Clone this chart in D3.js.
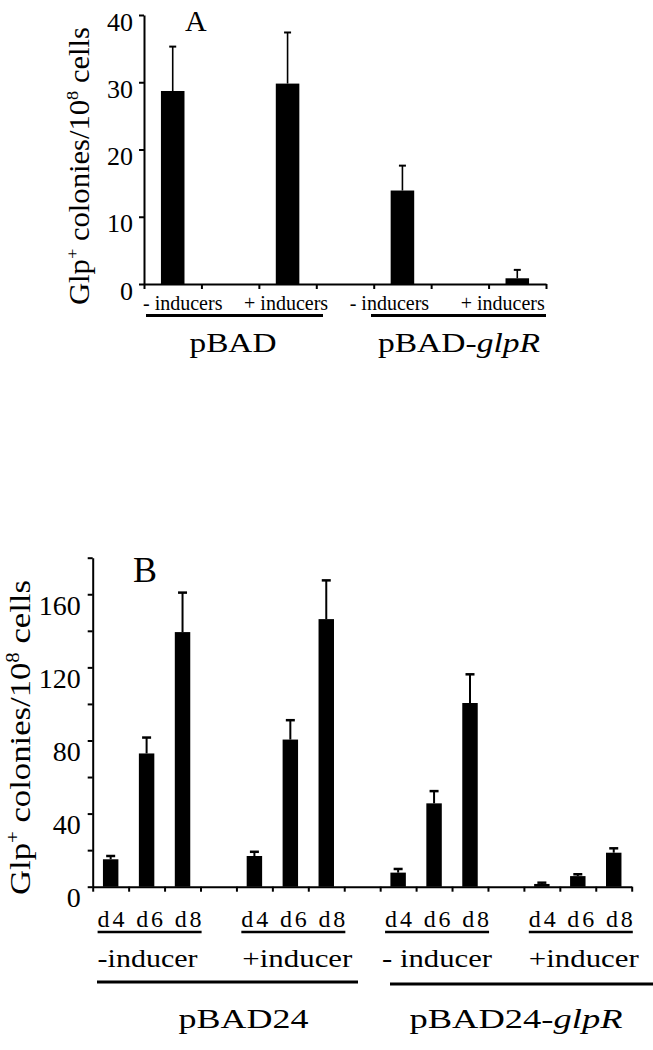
<!DOCTYPE html>
<html>
<head>
<meta charset="utf-8">
<script src="https://cdn.jsdelivr.net/npm/d3@7"></script>
<style>
  body { margin: 0; background: #fff; }
</style>
</head>
<body>
<div id="chart"></div>
<script>
// panel A data
var plasmidsA = ["pBAD", "pBAD-"];
var conditionsA = ["- inducers", "+ inducers", "- inducers", "+ inducers"];
var valuesA = [28.7, 29.8, 13.9, 0.85];
var errorsA = [6.6, 7.6, 3.7, 1.25];
var yTicksA = [0, 10, 20, 30, 40];

// panel B data
var plasmidsB = ["pBAD24", "pBAD24-"];
var conditionsB = ["-inducer", "+inducer", "- inducer", "+inducer"];
var daysB = ["d4", "d6", "d8"];
var valuesB = [15.0, 72.9, 139.3, 16.8, 80.5, 146.4, 7.7, 45.6, 100.5, 1.5, 5.8, 18.6];
var errorsB = [1.8, 8.7, 21.6, 2.3, 10.6, 21.2, 2.0, 6.7, 15.7, 0.7, 1.0, 2.4];
var yTicksB = [0, 20, 40, 60, 80, 100, 120, 140, 160, 180];
var yLabelsB = [0, 40, 80, 120, 160];

var serif = "Liberation Serif";

var svg = d3.select("#chart").append("svg")
    .attr("width", 653)
    .attr("height", 1050)
    .style("background", "#fff");

// y axis title with superscripts
function yTitle(x, y, size, len) {
    var t = svg.append("text")
        .attr("transform", `translate(${x},${y}) rotate(-90)`)
        .attr("text-anchor", "middle")
        .attr("textLength", len)
        .attr("lengthAdjust", "spacingAndGlyphs")
        .style("font-size", size + "px");
    var up = size * 0.36, small = size * 0.6;
    t.append("tspan").text("Glp");
    t.append("tspan").attr("dy", -up).style("font-size", small + "px").text("+");
    t.append("tspan").attr("dy", up).text(" colonies/10");
    t.append("tspan").attr("dy", -up).style("font-size", small + "px").text("8");
    t.append("tspan").attr("dy", up).text(" cells");
}

function styleAxis(g) {
    g.attr("font-family", serif);
    g.selectAll("path, line").attr("stroke", "#000").attr("stroke-width", 2);
}

// ---------------- panel A ----------------
var yA = d3.scaleLinear().domain([0, 40]).range([284, 15]);
var slotsA = d3.range(conditionsA.length * 2 - 1);
var xA = d3.scaleBand().domain(slotsA).range([144, 546])
    .paddingInner(0.59).paddingOuter(0.295);
var tA = d3.scaleLinear().domain([0, slotsA.length]).range([144, 546]);
var bwA = xA.bandwidth();

svg.append("g")
    .attr("transform", "translate(0,284)")
    .call(d3.axisBottom(tA).tickValues(d3.range(slotsA.length + 1)).tickSize(5).tickSizeOuter(0).tickFormat(""))
    .call(styleAxis);

svg.append("g")
    .attr("transform", "translate(144,0)")
    .call(d3.axisLeft(yA).tickValues(yTicksA).tickSize(5).tickSizeOuter(0))
    .call(styleAxis)
    .selectAll("text")
    .attr("x", -11).attr("y", 15).attr("dy", 0)
    .style("font-size", "26px");

svg.selectAll(".barA").data(valuesA).join("rect")
    .attr("class", "barA")
    .attr("x", (d, i) => xA(i * 2))
    .attr("y", d => yA(d))
    .attr("width", bwA)
    .attr("height", d => yA(0) - yA(d))
    .attr("fill", "#000");

// error bars
var errA = svg.selectAll(".errA").data(valuesA).join("g").attr("class", "errA");
errA.append("line")
    .attr("x1", (d, i) => xA(i * 2) + bwA / 2).attr("x2", (d, i) => xA(i * 2) + bwA / 2)
    .attr("y1", d => yA(d)).attr("y2", (d, i) => yA(d + errorsA[i]))
    .attr("stroke", "#000").attr("stroke-width", 1.6);
errA.append("line")
    .attr("x1", (d, i) => xA(i * 2) + bwA / 2 - 3.5).attr("x2", (d, i) => xA(i * 2) + bwA / 2 + 3.5)
    .attr("y1", (d, i) => yA(d + errorsA[i])).attr("y2", (d, i) => yA(d + errorsA[i]))
    .attr("stroke", "#000").attr("stroke-width", 2);

// condition labels
var offA = [10, -1.5, -13, -14.5];
svg.selectAll(".condA").data(conditionsA).join("text")
    .attr("class", "condA")
    .attr("x", (d, i) => xA(i * 2) + bwA / 2 + offA[i])
    .attr("y", 310)
    .attr("text-anchor", "middle")
    .style("font-size", "20px")
    .text(d => d);

// group underlines and plasmid names
var lineA = [[146, 323], [371, 546]];
svg.selectAll(".ulA").data(lineA).join("line")
    .attr("x1", d => d[0]).attr("x2", d => d[1])
    .attr("y1", 315.5).attr("y2", 315.5)
    .attr("stroke", "#000").attr("stroke-width", 3);

var nameA = [[233, 87], [459, 162]];
plasmidsA.forEach(function(p, i) {
    var t = svg.append("text")
        .attr("x", nameA[i][0]).attr("y", 352)
        .attr("text-anchor", "middle")
        .attr("textLength", nameA[i][1])
        .attr("lengthAdjust", "spacingAndGlyphs")
        .style("font-size", "27px");
    t.append("tspan").text(p);
    if (i == 1) t.append("tspan").style("font-style", "italic").text("glpR");
});

svg.append("text").attr("x", 185).attr("y", 30.5).style("font-size", "30px").text("A");
yTitle(88.5, 166, 29, 278);

// ---------------- panel B ----------------
var yB = d3.scaleLinear().domain([0, 180]).range([886.7, 557.7]);
var slotsB = d3.range(conditionsB.length * (daysB.length + 1) - 1);
var xB = d3.scaleBand().domain(slotsB).range([92.7, 631.7])
    .paddingInner(0.57).paddingOuter(0.285);
var tB = d3.scaleLinear().domain([0, slotsB.length]).range([92.7, 631.7]);
var bwB = xB.bandwidth();
var slotB = i => Math.floor(i / daysB.length) * (daysB.length + 1) + i % daysB.length;

svg.append("g")
    .attr("transform", "translate(0,886.7)")
    .call(d3.axisBottom(tB).tickValues(d3.range(slotsB.length + 1)).tickSize(5).tickSizeOuter(0).tickFormat(""))
    .call(styleAxis);

svg.append("g")
    .attr("transform", "translate(92.7,0)")
    .call(d3.axisLeft(yB).tickValues(yTicksB).tickSize(5).tickSizeOuter(0)
        .tickFormat(d => yLabelsB.includes(d) ? d : ""))
    .call(styleAxis)
    .selectAll("text")
    .attr("x", -12).attr("y", 20).attr("dy", 0)
    .style("font-size", "28px");

svg.selectAll(".barB").data(valuesB).join("rect")
    .attr("class", "barB")
    .attr("x", (d, i) => xB(slotB(i)))
    .attr("y", d => yB(d))
    .attr("width", bwB)
    .attr("height", d => yB(0) - yB(d))
    .attr("fill", "#000");

var errB = svg.selectAll(".errB").data(valuesB).join("g").attr("class", "errB");
errB.append("line")
    .attr("x1", (d, i) => xB(slotB(i)) + bwB / 2).attr("x2", (d, i) => xB(slotB(i)) + bwB / 2)
    .attr("y1", d => yB(d)).attr("y2", (d, i) => yB(d + errorsB[i]))
    .attr("stroke", "#000").attr("stroke-width", 2);
errB.append("line")
    .attr("x1", (d, i) => xB(slotB(i)) + bwB / 2 - 4.5).attr("x2", (d, i) => xB(slotB(i)) + bwB / 2 + 4.5)
    .attr("y1", (d, i) => yB(d + errorsB[i])).attr("y2", (d, i) => yB(d + errorsB[i]))
    .attr("stroke", "#000").attr("stroke-width", 2.5);

// day labels + condition labels under each group
var offB = [1, 7, 3, 6];
var lenB = [100, 110, 110, 110];
conditionsB.forEach(function(c, g) {
    var cx = (xB(g * (daysB.length + 1)) + xB(g * (daysB.length + 1) + daysB.length - 1) + bwB) / 2;
    svg.append("text")
        .attr("x", cx + 3).attr("y", 926.7)
        .attr("text-anchor", "middle")
        .attr("textLength", 104)
        .attr("lengthAdjust", "spacing")
        .style("font-size", "24px")
        .text(daysB.join(" "));
    svg.append("line")
        .attr("x1", cx + 3 - 52).attr("x2", cx + 3 + 52)
        .attr("y1", 932).attr("y2", 932)
        .attr("stroke", "#000").attr("stroke-width", 2.5);
    svg.append("text")
        .attr("x", cx + offB[g]).attr("y", 967)
        .attr("text-anchor", "middle")
        .attr("textLength", lenB[g])
        .attr("lengthAdjust", "spacingAndGlyphs")
        .style("font-size", "25px")
        .text(c);
});

var lineB = [[97, 358, 982], [390, 653, 984]];
svg.selectAll(".ulB").data(lineB).join("line")
    .attr("x1", d => d[0]).attr("x2", d => d[1])
    .attr("y1", d => d[2]).attr("y2", d => d[2])
    .attr("stroke", "#000").attr("stroke-width", 3);

var nameB = [[243.5, 130], [516, 213]];
plasmidsB.forEach(function(p, i) {
    var t = svg.append("text")
        .attr("x", nameB[i][0]).attr("y", 1028)
        .attr("text-anchor", "middle")
        .attr("textLength", nameB[i][1])
        .attr("lengthAdjust", "spacingAndGlyphs")
        .style("font-size", "28px");
    t.append("tspan").text(p);
    if (i == 1) t.append("tspan").style("font-style", "italic").text("glpR");
});

svg.append("text").attr("x", 133).attr("y", 581.5).style("font-size", "36px").text("B");
yTitle(30, 737.5, 30, 315);

// every label in a Times-like face
svg.selectAll("text")
    .attr("font-family", serif)
    .style("font-family", "'Liberation Serif', 'Times New Roman', serif")
    .attr("fill", "#000");
</script>
</body>
</html>
